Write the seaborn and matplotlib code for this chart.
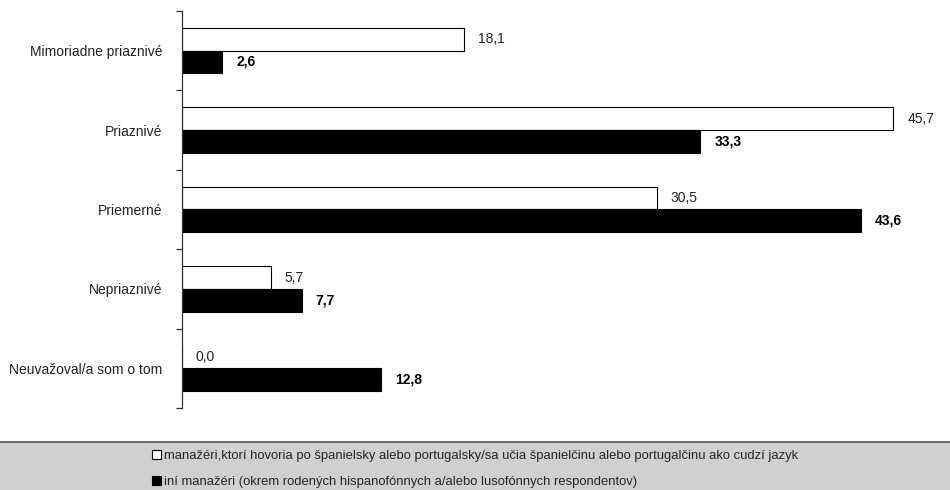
import matplotlib
matplotlib.use("Agg")
import matplotlib.pyplot as plt
import seaborn as sns
import pandas as pd
from matplotlib.patches import Rectangle

categories = ["Mimoriadne priaznivé", "Priaznivé", "Priemerné", "Nepriaznivé", "Neuvažoval/a som o tom"]
series_names = [
    "manažéri,ktorí hovoria po španielsky alebo portugalsky/sa učia španielčinu alebo portugalčinu ako cudzí jazyk",
    "iní manažéri (okrem rodených hispanofónnych a/alebo lusofónnych respondentov)",
]
values_learners = [18.1, 45.7, 30.5, 5.7, 0.0]
values_others = [2.6, 33.3, 43.6, 7.7, 12.8]

df = pd.DataFrame({
    "kategoria": categories * 2,
    "hodnota": values_learners + values_others,
    "skupina": [series_names[0]] * len(categories) + [series_names[1]] * len(categories),
})

sns.set_style("white")
plt.rcParams["font.family"] = ["Liberation Sans", "DejaVu Sans"]

fig = plt.figure(figsize=(9.5, 4.9), dpi=100)
ax = fig.add_axes([0.1916, 0.1673, 0.798, 0.8103])

sns.barplot(
    data=df, y="kategoria", x="hodnota", hue="skupina",
    order=categories, hue_order=series_names,
    palette=["white", "black"], edgecolor="black", linewidth=0.8,
    width=0.57, orient="h", ax=ax, legend=True,
)

ax.set_xlim(0, 48.7)
ax.set_ylim(len(categories) - 0.5, -0.5)
ax.set_xlabel("")
ax.set_ylabel("")
ax.set_xticks([])

for side in ["top", "right", "bottom"]:
    ax.spines[side].set_visible(False)
ax.spines["left"].set_color("#333333")
ax.spines["left"].set_linewidth(0.9)

ax.tick_params(axis="y", which="major", left=False, length=0, pad=14,
               labelsize=10, labelcolor="#222222")
ax.set_yticks([i - 0.5 for i in range(len(categories) + 1)], minor=True)
ax.tick_params(axis="y", which="minor", left=True, length=4, width=0.9,
               color="#333333", direction="out")

def fmt(v):
    return f"{v:.1f}".replace(".", ",")

ax.bar_label(ax.containers[0], labels=[fmt(v) for v in values_learners],
             padding=10, fontsize=10, color="#222222")
ax.bar_label(ax.containers[1], labels=[fmt(v) for v in values_others],
             padding=10, fontsize=10, fontweight="bold", color="black")

handles, labels = ax.get_legend_handles_labels()
ax.get_legend().remove()

# grey legend band across the bottom of the figure
band_h = 48 / 490
fig.patches.append(Rectangle((0, -0.01), 1, band_h + 0.01, transform=fig.transFigure,
                             facecolor="#d0d0d0", edgecolor="none", zorder=0))
fig.add_artist(plt.Line2D([0, 1], [band_h, band_h], transform=fig.transFigure,
                          color="#555555", linewidth=1.2))

fig.legend(handles, labels, loc="center", bbox_to_anchor=(0.5, 21 / 490),
           frameon=False, fontsize=9.4, handlelength=0.7, handleheight=0.7,
           handletextpad=0.2, labelspacing=1.0, borderpad=0.0)

fig.savefig("out.png", dpi=100)
